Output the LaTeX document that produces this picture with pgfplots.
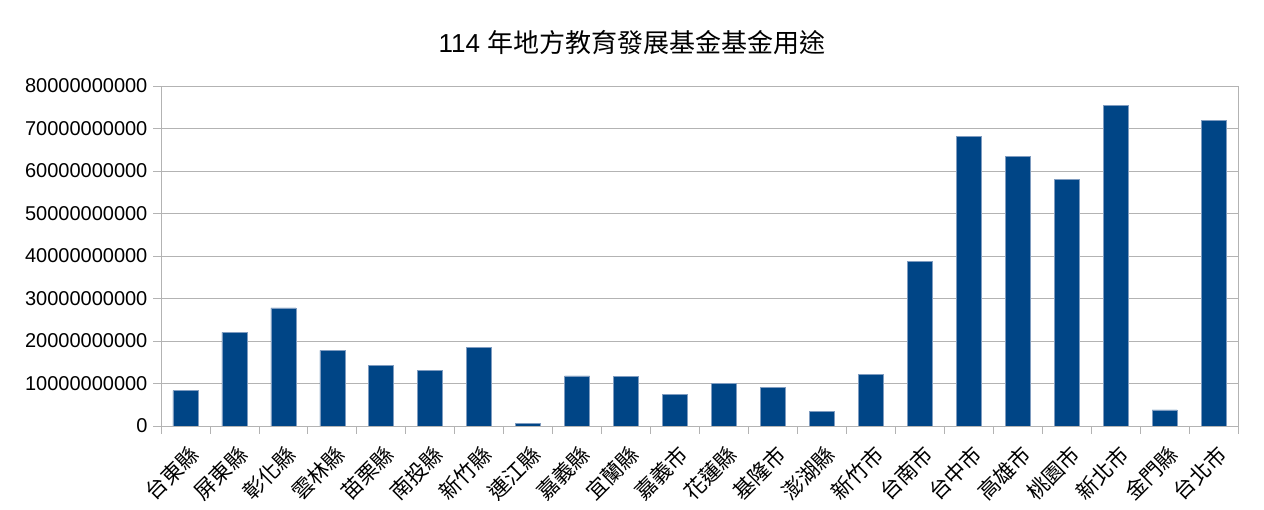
\documentclass[border=0pt]{standalone}
\usepackage{pgfplots}
\pgfplotsset{compat=1.18}
\usepackage{fontspec}
\setmainfont{Liberation Sans}
\newfontfamily\cjk{Noto Sans CJK TC}
\definecolor{barblue}{HTML}{004586}
\definecolor{baredge}{HTML}{7F9CC0}
\definecolor{gridgray}{HTML}{B3B3B3}
\begin{document}
\begin{tikzpicture}[x=0.75pt,y=0.75pt]
\path[use as bounding box] (0,0) rectangle (1264,510);
\node[font=\fontsize{19.5}{22}\selectfont] at (632,467) {114 {\cjk 年地方教育發展基金基金用途}};
\begin{axis}[
 at={(120.75pt,63pt)}, anchor=south west, scale only axis,
 width=807.75pt, height=255pt,
 xmin=-0.5, xmax=21.5, ymin=0, ymax=8e10,
 ybar, bar width=18.75pt,
 axis line style={gridgray},
 ymajorgrids, grid style={gridgray, line width=0.6pt},
 xtick={0,...,21},
 xticklabels={台東縣,屏東縣,彰化縣,雲林縣,苗栗縣,南投縣,新竹縣,連江縣,嘉義縣,宜蘭縣,嘉義市,花蓮縣,基隆市,澎湖縣,新竹市,台南市,台中市,高雄市,桃園市,新北市,金門縣,台北市},
 major x tick style={draw=none},
 minor xtick={-0.5,0.5,...,21.5},
 minor x tick style={gridgray, line width=0.6pt},
 minor tick length=6pt,
 major tick length=6pt,
 tick align=outside,
 ytick={0,1e10,2e10,3e10,4e10,5e10,6e10,7e10,8e10},
 yticklabels={0,10000000000,20000000000,30000000000,40000000000,50000000000,60000000000,70000000000,80000000000},
 scaled y ticks=false,
 y tick style={gridgray, line width=0.6pt},
 yticklabel style={font=\fontsize{15}{15}\selectfont, inner sep=1pt, xshift=-3pt},
 xticklabel style={font=\cjk\fontsize{16}{16}\selectfont, rotate=45, anchor=north east, inner sep=0pt, xshift=-4pt, yshift=-6pt},
 tick pos=left,
]
\addplot[fill=barblue, draw=baredge, line width=0.5pt] coordinates {
(0,8.3e9) (1,2.20e10) (2,2.78e10) (3,1.78e10) (4,1.435e10) (5,1.31e10)
(6,1.84e10) (7,0.07e10) (8,1.18e10) (9,1.16e10) (10,0.75e10) (11,1.0e10)
(12,0.91e10) (13,0.34e10) (14,1.22e10) (15,3.88e10) (16,6.81e10) (17,6.35e10)
(18,5.80e10) (19,7.55e10) (20,0.38e10) (21,7.20e10)
};
\end{axis}
\end{tikzpicture}
\end{document}
